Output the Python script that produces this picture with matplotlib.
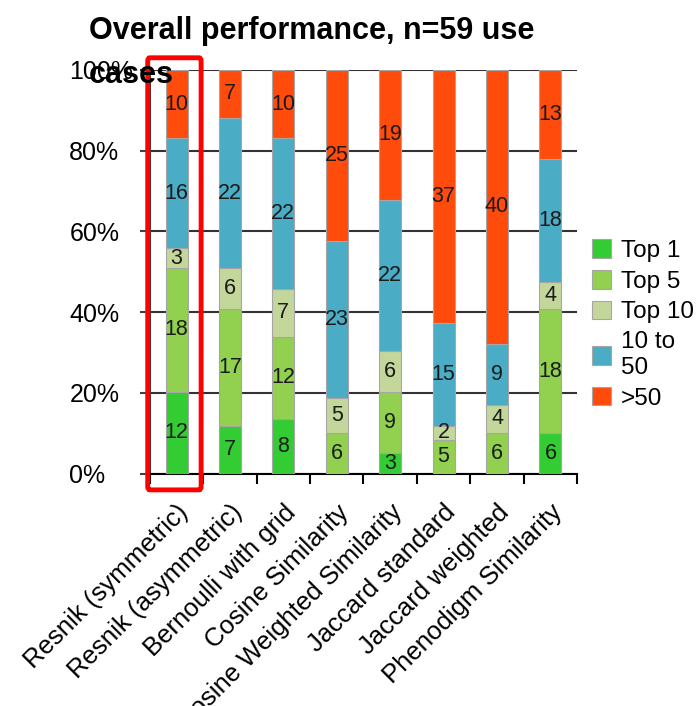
import numpy as np
import matplotlib.pyplot as plt
from matplotlib.patches import FancyBboxPatch

plt.rcParams['font.family'] = ['Liberation Sans', 'DejaVu Sans']

methods = ['Resnik (symmetric)', 'Resnik (asymmetric)', 'Bernoulli with grid',
           'Cosine Similarity', 'Cosine Weighted Similarity', 'Jaccard standard',
           'Jaccard weighted', 'Phenodigm Similarity']
categories = ['Top 1', 'Top 5', 'Top 10', '10 to\n50', '>50']
top1 = [12, 7, 8, 0, 3, 0, 0, 6]
top5 = [18, 17, 12, 6, 9, 5, 6, 18]
top10 = [3, 6, 7, 5, 6, 2, 4, 4]
to50 = [16, 22, 22, 23, 22, 15, 9, 18]
over50 = [10, 7, 10, 25, 19, 37, 40, 13]
colors = ['#33CC33', '#92D050', '#C4D79B', '#4BACC6', '#FF4C0C']

counts = np.array([top1, top5, top10, to50, over50], dtype=float)
totals = counts.sum(axis=0)
pct = counts / totals * 100

fig = plt.figure(figsize=(6.97, 7.06), dpi=100)
ax = fig.add_axes([0.215, 0.329, 0.613, 0.572])

x = np.arange(len(methods))
bottom = np.zeros(len(methods))
for i in range(len(categories)):
    ax.bar(x, pct[i], 0.41, bottom=bottom, color=colors[i], edgecolor='#A6A6A6',
           linewidth=0.8, label=categories[i], zorder=3)
    for j in range(len(methods)):
        if counts[i, j] > 0:
            ax.text(x[j], bottom[j] + pct[i, j] / 2, '%d' % counts[i, j],
                    ha='center', va='center', fontsize=15.5, color='#1a1a1a', zorder=4)
    bottom += pct[i]

ax.set_xlim(-0.5, len(methods) - 0.5)
ax.set_ylim(0, 100)
ax.set_yticks(np.arange(0, 101, 20))
ax.set_yticklabels(['%d%%' % v for v in range(0, 101, 20)])
ax.yaxis.grid(True, color='#333333', linewidth=1.5, zorder=0)
ax.set_axisbelow(True)
for s in ['top', 'right']:
    ax.spines[s].set_visible(False)
ax.spines['left'].set_color('#404040')
ax.spines['bottom'].set_color('black')
ax.spines['bottom'].set_linewidth(1.5)
ax.tick_params(axis='y', length=7, width=1.5, color='#404040', pad=51, labelsize=18)
for lab in ax.get_yticklabels():
    lab.set_horizontalalignment('left')
ax.set_xticks(np.arange(len(methods) + 1) - 0.5, minor=False)
ax.set_xticklabels([])
ax.tick_params(axis='x', length=7, width=1.5, direction='out')
for j, m in enumerate(methods):
    ax.annotate(m, xy=(x[j], 0), xycoords=('data', 'axes fraction'),
                xytext=(6, -25), textcoords='offset points', rotation=45,
                rotation_mode='anchor', ha='right', va='center', fontsize=18.5)

# highlight box round the first method
box = FancyBboxPatch((-0.54, -4), 1.0, 107, boxstyle='round,pad=0,rounding_size=0.04',
                     transform=ax.transData, clip_on=False, fill=False,
                     edgecolor='#FF0000', linewidth=3.5, zorder=5, mutation_aspect=20)
ax.add_patch(box)

leg = fig.legend(loc='upper left', bbox_to_anchor=(0.835, 0.675), frameon=False,
                 fontsize=17.5, handlelength=0.8, handleheight=0.8, handletextpad=0.4,
                 labelspacing=0.33, borderaxespad=0)

fig.text(0.128, 0.977, 'Overall performance, n=59 use\ncases', ha='left', va='top',
         fontsize=22, fontweight='bold', linespacing=1.6, zorder=10)

fig.savefig('out.png', dpi=100)
